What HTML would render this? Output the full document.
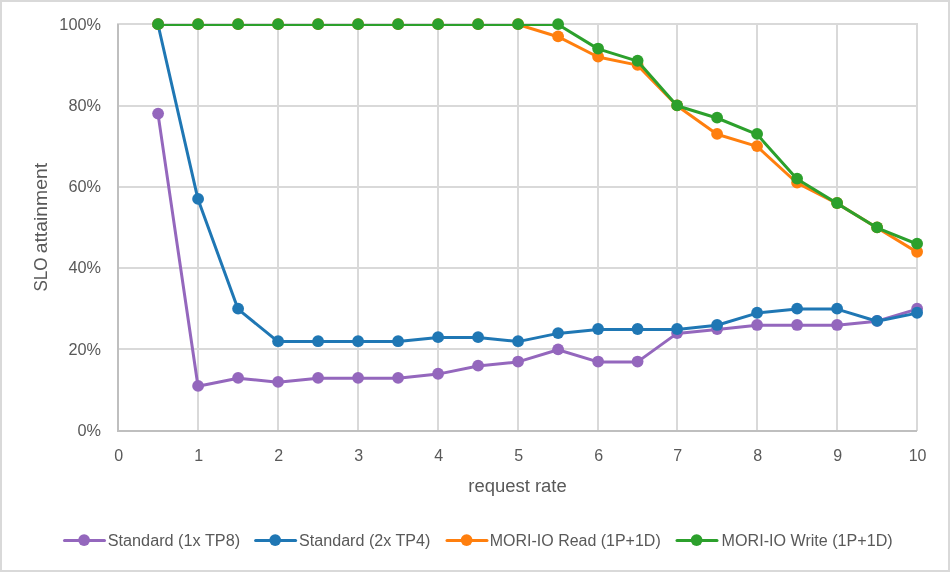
<!DOCTYPE html>
<html><head><meta charset="utf-8"><style>
html,body{margin:0;padding:0;background:#fff;}
body{width:950px;height:572px;overflow:hidden;}
svg{display:block;will-change:transform;}
text{font-family:"Liberation Sans",sans-serif;fill:#595959;}
</style></head><body>
<svg width="950" height="572" viewBox="0 0 950 572">
<rect x="0" y="0" width="950" height="572" fill="#ffffff"/>
<rect x="1" y="1" width="948" height="570" fill="none" stroke="#d9d9d9" stroke-width="2"/>

<g fill="#d9d9d9" shape-rendering="crispEdges">
<rect x="117" y="348" width="801" height="2"/>
<rect x="117" y="267" width="801" height="2"/>
<rect x="117" y="186" width="801" height="2"/>
<rect x="117" y="105" width="801" height="2"/>
<rect x="117" y="23" width="801" height="2"/>
<rect x="197" y="23" width="2" height="408"/>
<rect x="277" y="23" width="2" height="408"/>
<rect x="357" y="23" width="2" height="408"/>
<rect x="437" y="23" width="2" height="408"/>
<rect x="517" y="23" width="2" height="408"/>
<rect x="597" y="23" width="2" height="408"/>
<rect x="676" y="23" width="2" height="408"/>
<rect x="756" y="23" width="2" height="408"/>
<rect x="836" y="23" width="2" height="408"/>
<rect x="916" y="23" width="2" height="408"/>
</g>
<g fill="#bfbfbf" shape-rendering="crispEdges"><rect x="117" y="24" width="2" height="408"/><rect x="117" y="430" width="800" height="2"/></g>
<g font-size="16.3" text-anchor="end">
<text x="101" y="435.8">0%</text>
<text x="101" y="354.6">20%</text>
<text x="101" y="273.4">40%</text>
<text x="101" y="192.2">60%</text>
<text x="101" y="111.0">80%</text>
<text x="101" y="29.8">100%</text>
</g>
<g font-size="16" text-anchor="middle">
<text x="118.6" y="461">0</text>
<text x="198.6" y="461">1</text>
<text x="278.6" y="461">2</text>
<text x="358.6" y="461">3</text>
<text x="438.6" y="461">4</text>
<text x="518.6" y="461">5</text>
<text x="598.6" y="461">6</text>
<text x="677.6" y="461">7</text>
<text x="757.6" y="461">8</text>
<text x="837.6" y="461">9</text>
<text x="917.6" y="461">10</text>
</g>
<text font-size="18" text-anchor="middle" x="517.5" y="491.5" textLength="98.5" lengthAdjust="spacingAndGlyphs">request rate</text>
<text font-size="19.2" transform="translate(47.2,291.6) rotate(-90)" textLength="34" lengthAdjust="spacingAndGlyphs">SLO</text>
<text font-size="18" transform="translate(47,253.3) rotate(-90)" textLength="90.4" lengthAdjust="spacingAndGlyphs">attainment</text>
<defs><clipPath id="pc"><rect x="100" y="24" width="840" height="420"/></clipPath></defs>
<polyline clip-path="url(#pc)" points="158.0,113.9 198.0,386.3 238.0,378.2 278.0,382.2 318.0,378.2 358.0,378.2 398.0,378.2 438.0,374.1 478.0,366.0 518.0,361.9 558.0,349.7 598.0,361.9 637.5,361.9 677.0,333.4 717.0,329.4 757.0,325.3 797.0,325.3 837.0,325.3 877.0,321.2 917.0,309.1" fill="none" stroke="#9467bd" stroke-width="3" stroke-linejoin="round" stroke-linecap="round"/>
<g fill="#9467bd"><circle cx="158.1" cy="113.58" r="5.9"/><circle cx="198.1" cy="385.93" r="5.9"/><circle cx="238.1" cy="377.80" r="5.9"/><circle cx="278.1" cy="381.87" r="5.9"/><circle cx="318.1" cy="377.80" r="5.9"/><circle cx="358.1" cy="377.80" r="5.9"/><circle cx="398.1" cy="377.80" r="5.9"/><circle cx="438.1" cy="373.74" r="5.9"/><circle cx="478.1" cy="365.61" r="5.9"/><circle cx="518.1" cy="361.54" r="5.9"/><circle cx="558.1" cy="349.35" r="5.9"/><circle cx="598.1" cy="361.54" r="5.9"/><circle cx="637.6" cy="361.54" r="5.9"/><circle cx="677.1" cy="333.09" r="5.9"/><circle cx="717.1" cy="329.02" r="5.9"/><circle cx="757.1" cy="324.96" r="5.9"/><circle cx="797.1" cy="324.96" r="5.9"/><circle cx="837.1" cy="324.96" r="5.9"/><circle cx="877.1" cy="320.89" r="5.9"/><circle cx="917.1" cy="308.70" r="5.9"/></g>
<polyline clip-path="url(#pc)" points="158.0,24.5 198.0,199.3 238.0,309.1 278.0,341.6 318.0,341.6 358.0,341.6 398.0,341.6 438.0,337.5 478.0,337.5 518.0,341.6 558.0,333.4 598.0,329.4 637.5,329.4 677.0,329.4 717.0,325.3 757.0,313.1 797.0,309.1 837.0,309.1 877.0,321.2 917.0,313.1" fill="none" stroke="#1f77b4" stroke-width="3" stroke-linejoin="round" stroke-linecap="round"/>
<g fill="#1f77b4"><circle cx="158.1" cy="24.15" r="5.9"/><circle cx="198.1" cy="198.94" r="5.9"/><circle cx="238.1" cy="308.70" r="5.9"/><circle cx="278.1" cy="341.22" r="5.9"/><circle cx="318.1" cy="341.22" r="5.9"/><circle cx="358.1" cy="341.22" r="5.9"/><circle cx="398.1" cy="341.22" r="5.9"/><circle cx="438.1" cy="337.15" r="5.9"/><circle cx="478.1" cy="337.15" r="5.9"/><circle cx="518.1" cy="341.22" r="5.9"/><circle cx="558.1" cy="333.09" r="5.9"/><circle cx="598.1" cy="329.02" r="5.9"/><circle cx="637.6" cy="329.02" r="5.9"/><circle cx="677.1" cy="329.02" r="5.9"/><circle cx="717.1" cy="324.96" r="5.9"/><circle cx="757.1" cy="312.76" r="5.9"/><circle cx="797.1" cy="308.70" r="5.9"/><circle cx="837.1" cy="308.70" r="5.9"/><circle cx="877.1" cy="320.89" r="5.9"/><circle cx="917.1" cy="312.76" r="5.9"/></g>
<polyline clip-path="url(#pc)" points="158.0,24.5 198.0,24.5 238.0,24.5 278.0,24.5 318.0,24.5 358.0,24.5 398.0,24.5 438.0,24.5 478.0,24.5 518.0,24.5 558.0,36.7 598.0,57.0 637.5,65.1 677.0,105.8 717.0,134.3 757.0,146.4 797.0,183.0 837.0,203.4 877.0,227.8 917.0,252.1" fill="none" stroke="#ff7f0e" stroke-width="3" stroke-linejoin="round" stroke-linecap="round"/>
<g fill="#ff7f0e"><circle cx="158.1" cy="24.15" r="5.9"/><circle cx="198.1" cy="24.15" r="5.9"/><circle cx="238.1" cy="24.15" r="5.9"/><circle cx="278.1" cy="24.15" r="5.9"/><circle cx="318.1" cy="24.15" r="5.9"/><circle cx="358.1" cy="24.15" r="5.9"/><circle cx="398.1" cy="24.15" r="5.9"/><circle cx="438.1" cy="24.15" r="5.9"/><circle cx="478.1" cy="24.15" r="5.9"/><circle cx="518.1" cy="24.15" r="5.9"/><circle cx="558.1" cy="36.34" r="5.9"/><circle cx="598.1" cy="56.67" r="5.9"/><circle cx="637.6" cy="64.80" r="5.9"/><circle cx="677.1" cy="105.45" r="5.9"/><circle cx="717.1" cy="133.91" r="5.9"/><circle cx="757.1" cy="146.10" r="5.9"/><circle cx="797.1" cy="182.69" r="5.9"/><circle cx="837.1" cy="203.01" r="5.9"/><circle cx="877.1" cy="227.40" r="5.9"/><circle cx="917.1" cy="251.79" r="5.9"/></g>
<polyline clip-path="url(#pc)" points="158.0,24.5 198.0,24.5 238.0,24.5 278.0,24.5 318.0,24.5 358.0,24.5 398.0,24.5 438.0,24.5 478.0,24.5 518.0,24.5 558.0,24.5 598.0,48.9 637.5,61.1 677.0,105.8 717.0,118.0 757.0,134.3 797.0,179.0 837.0,203.4 877.0,227.8 917.0,244.0" fill="none" stroke="#2ca02c" stroke-width="3" stroke-linejoin="round" stroke-linecap="round"/>
<g fill="#2ca02c"><circle cx="158.1" cy="24.15" r="5.9"/><circle cx="198.1" cy="24.15" r="5.9"/><circle cx="238.1" cy="24.15" r="5.9"/><circle cx="278.1" cy="24.15" r="5.9"/><circle cx="318.1" cy="24.15" r="5.9"/><circle cx="358.1" cy="24.15" r="5.9"/><circle cx="398.1" cy="24.15" r="5.9"/><circle cx="438.1" cy="24.15" r="5.9"/><circle cx="478.1" cy="24.15" r="5.9"/><circle cx="518.1" cy="24.15" r="5.9"/><circle cx="558.1" cy="24.15" r="5.9"/><circle cx="598.1" cy="48.54" r="5.9"/><circle cx="637.6" cy="60.73" r="5.9"/><circle cx="677.1" cy="105.45" r="5.9"/><circle cx="717.1" cy="117.65" r="5.9"/><circle cx="757.1" cy="133.91" r="5.9"/><circle cx="797.1" cy="178.62" r="5.9"/><circle cx="837.1" cy="203.01" r="5.9"/><circle cx="877.1" cy="227.40" r="5.9"/><circle cx="917.1" cy="243.66" r="5.9"/></g>
<line x1="64.5" x2="104.5" y1="540.4" y2="540.4" stroke="#9467bd" stroke-width="3" stroke-linecap="round"/><circle cx="84.1" cy="540.1" r="5.9" fill="#9467bd"/>
<text font-size="16" x="107.7" y="546" textLength="132.4" lengthAdjust="spacingAndGlyphs">Standard (1x TP8)</text>
<line x1="255.6" x2="295.6" y1="540.4" y2="540.4" stroke="#1f77b4" stroke-width="3" stroke-linecap="round"/><circle cx="275.2" cy="540.1" r="5.9" fill="#1f77b4"/>
<text font-size="16" x="299.1" y="546" textLength="131.2" lengthAdjust="spacingAndGlyphs">Standard (2x TP4)</text>
<line x1="447.0" x2="487.0" y1="540.4" y2="540.4" stroke="#ff7f0e" stroke-width="3" stroke-linecap="round"/><circle cx="466.6" cy="540.1" r="5.9" fill="#ff7f0e"/>
<text font-size="16" x="489.8" y="546" textLength="170.9" lengthAdjust="spacingAndGlyphs">MORI-IO Read (1P+1D)</text>
<line x1="677.0" x2="717.0" y1="540.4" y2="540.4" stroke="#2ca02c" stroke-width="3" stroke-linecap="round"/><circle cx="696.6" cy="540.1" r="5.9" fill="#2ca02c"/>
<text font-size="16" x="721.6" y="546" textLength="171.1" lengthAdjust="spacingAndGlyphs">MORI-IO Write (1P+1D)</text>
</svg></body></html>
